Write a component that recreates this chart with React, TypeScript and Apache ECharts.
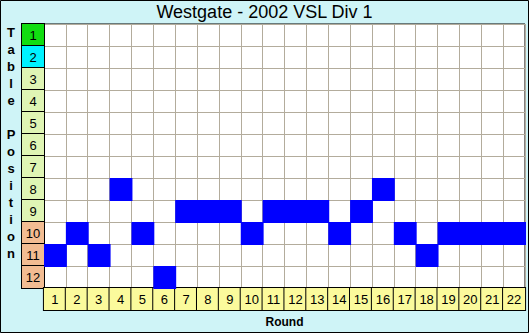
import React, { useEffect, useRef } from 'react';
import * as echarts from 'echarts';

const chartTitle = 'Westgate - 2002 VSL Div 1';
const xAxisTitle = 'Round';
const yAxisTitle = 'Table Position';
const rounds = ['1', '2', '3', '4', '5', '6', '7', '8', '9', '10', '11', '12', '13', '14', '15', '16', '17', '18', '19', '20', '21', '22'];
const tablePositions = ['1', '2', '3', '4', '5', '6', '7', '8', '9', '10', '11', '12'];
const positionByRound = [11, 10, 11, 8, 10, 12, 9, 9, 9, 10, 9, 9, 9, 10, 9, 8, 10, 11, 10, 10, 10, 10];

const FONT = 'Liberation Sans, Arial, sans-serif';

function posClass(v: string): string {
  const n = Number(v);
  if (n === 1) return 'g';
  if (n === 2) return 'c';
  if (n >= 10) return 'o';
  return 'y';
}

const cellBase = {
  width: 22,
  height: 22,
  align: 'center' as const,
  verticalAlign: 'middle' as const,
  fontFamily: FONT,
  fontSize: 13,
  color: '#000',
  borderColor: '#000',
  borderWidth: 1,
};

export default function App() {
  const ref = useRef<HTMLDivElement>(null);
  useEffect(() => {
    if (!ref.current) return;
    const chart = echarts.init(ref.current, null, { renderer: 'svg' });
    chart.setOption({
      animation: false,
      backgroundColor: '#cff4f7',
      title: {
        text: chartTitle,
        left: 'center',
        top: -2,
        textStyle: { fontFamily: FONT, fontSize: 18, fontWeight: 'normal', color: '#000' },
      },
      grid: {
        left: 44,
        top: 24,
        width: 484,
        height: 264,
        show: true,
        backgroundColor: '#ffffff',
        borderColor: '#000',
        borderWidth: 1,
      },
      xAxis: {
        type: 'category',
        data: rounds,
        position: 'bottom',
        axisLine: { show: false },
        axisTick: { show: false },
        splitLine: { show: true, lineStyle: { color: '#b3ac9c', width: 1 } },
        axisLabel: {
          interval: 0,
          margin: 0,
          color: '#000',
          formatter: (v: string) => `{x|${v}}`,
          rich: { x: { ...cellBase, backgroundColor: '#fbfa9c' } },
        },
        name: xAxisTitle,
        nameLocation: 'middle',
        nameGap: 28,
        nameTextStyle: { fontFamily: FONT, fontSize: 12, fontWeight: 'bold', color: '#000' },
      },
      yAxis: {
        type: 'category',
        data: tablePositions,
        inverse: true,
        axisLine: { show: false },
        axisTick: { show: false },
        splitLine: { show: true, lineStyle: { color: '#b3ac9c', width: 1 } },
        axisLabel: {
          interval: 0,
          margin: 0,
          color: '#000',
          formatter: (v: string) => `{${posClass(v)}|${v}}`,
          rich: {
            g: { ...cellBase, backgroundColor: '#11dd11' },
            c: { ...cellBase, backgroundColor: '#00f2ff' },
            y: { ...cellBase, backgroundColor: '#dff5b4' },
            o: { ...cellBase, backgroundColor: '#f2bc92' },
          },
        },
      },
      series: [
        {
          type: 'custom',
          data: positionByRound.map((p, i) => [i, p - 1]),
          encode: { x: 0, y: 1 },
          renderItem: (params: any, api: any) => {
            const c = api.coord([api.value(0), api.value(1)]);
            const s = api.size([1, 1]);
            return {
              type: 'rect',
              shape: { x: c[0] - s[0] / 2, y: c[1] - s[1] / 2, width: s[0] + 1, height: s[1] + 1 },
              style: { fill: '#0000ff' },
            };
          },
        },
      ],
      graphic: [
        {
          type: 'text',
          x: 11,
          y: 24,
          style: {
            text: yAxisTitle.split('').join('\n'),
            font: `bold 13px ${FONT}`,
            lineHeight: 17,
            align: 'center',
            verticalAlign: 'top',
            fill: '#000',
          },
        },
        {
          type: 'rect',
          shape: { x: 0.5, y: 0.5, width: 528, height: 332 },
          style: { fill: 'none', stroke: '#000', lineWidth: 1 },
          z: 100,
        },
      ],
    });
    return () => chart.dispose();
  }, []);
  return (
    <div
      ref={ref}
      style={{ position: 'fixed', left: 0, top: 0, width: 529, height: 333 }}
    />
  );
}
